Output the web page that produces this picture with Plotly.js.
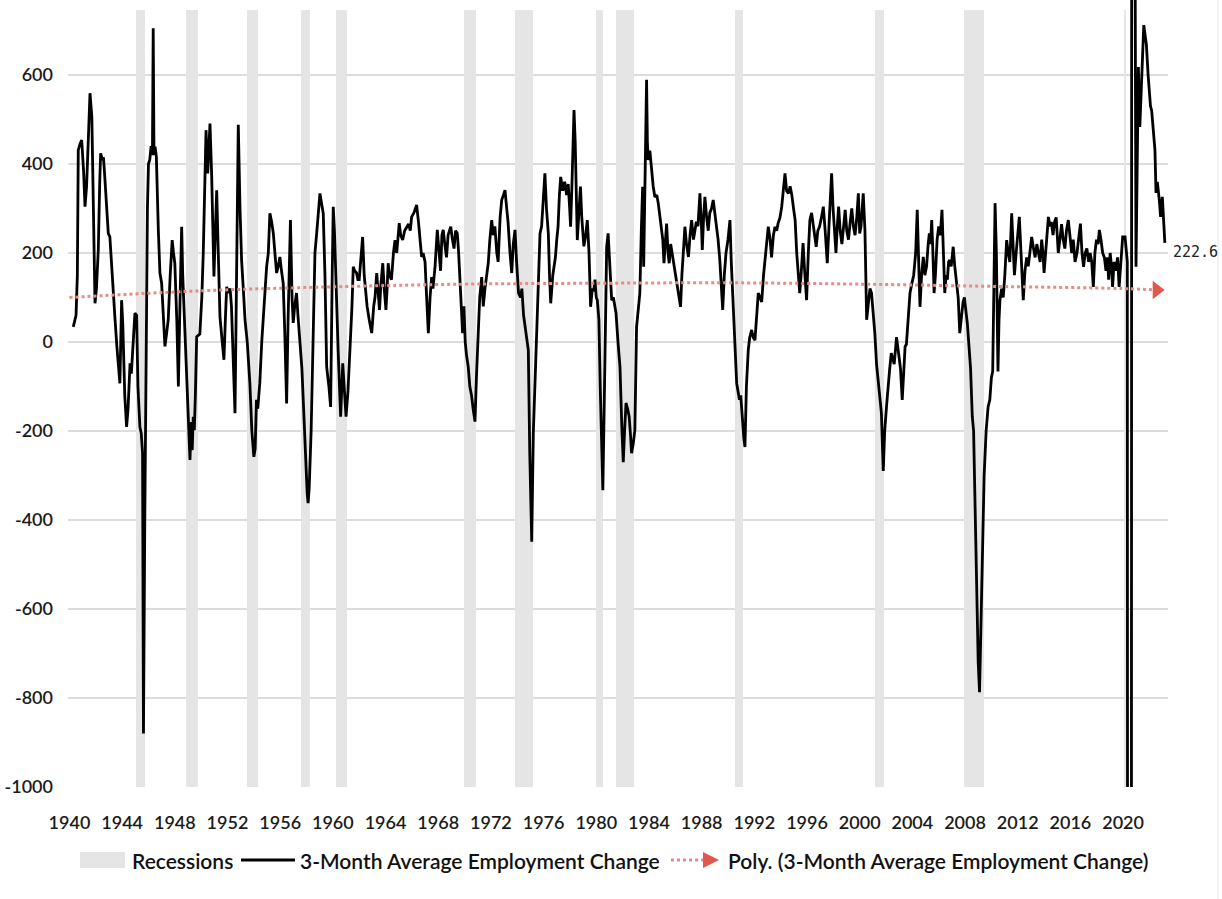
<!DOCTYPE html>
<html>
<head>
<meta charset="utf-8">
<script src="https://cdn.plot.ly/plotly-3.0.1.min.js"></script>
<style>
  html, body { margin: 0; padding: 0; background: #ffffff; }
  #chart { width: 1222px; height: 899px; }
</style>
</head>
<body>
<div id="chart"></div>
<script>
// ---------------- DATA ----------------
// 3-month average employment change (thousands), x in decimal years
const empYears = [
1940.29,1940.5,1940.6,1940.67,1940.8,1940.93,1941.08,1941.18,1941.3,1941.45,1941.56,1941.7,1941.82,1941.94,
1942.05,1942.19,1942.3,1942.37,1942.5,1942.58,1942.65,1942.8,1942.95,1943.07,1943.2,1943.33,1943.45,1943.6,
1943.75,1943.83,1943.96,1944.05,1944.2,1944.34,1944.45,1944.6,1944.7,1944.85,1944.97,1945.1,1945.2,1945.35,
1945.45,1945.55,1945.62,1945.72,1945.82,1945.92,1946.0,1946.1,1946.2,1946.3,1946.36,1946.42,1946.5,1946.6,
1946.75,1946.87,1947.0,1947.12,1947.25,1947.38,1947.5,1947.65,1947.8,1947.9,1948.0,1948.15,1948.27,1948.4,
1948.52,1948.6,1948.77,1948.95,1949.1,1949.15,1949.25,1949.32,1949.4,1949.48,1949.56,1949.66,1949.9,1950.05,
1950.16,1950.3,1950.37,1950.5,1950.6,1950.67,1950.8,1950.97,1951.08,1951.18,1951.3,1951.43,1951.6,1951.73,
1951.85,1951.94,1952.05,1952.2,1952.3,1952.45,1952.57,1952.65,1952.75,1952.82,1952.95,1953.07,1953.2,1953.33,
1953.5,1953.7,1953.85,1954.0,1954.1,1954.2,1954.3,1954.45,1954.6,1954.8,1954.97,1955.1,1955.22,1955.35,
1955.48,1955.6,1955.73,1955.85,1955.98,1956.1,1956.23,1956.35,1956.49,1956.6,1956.7,1956.78,1956.9,1956.99,
1957.1,1957.24,1957.35,1957.5,1957.65,1957.78,1957.9,1958.05,1958.12,1958.2,1958.35,1958.5,1958.64,1958.77,
1958.9,1959.02,1959.15,1959.27,1959.4,1959.53,1959.7,1959.83,1959.95,1960.03,1960.12,1960.24,1960.4,1960.59,
1960.68,1960.75,1960.9,1961.0,1961.15,1961.3,1961.45,1961.55,1961.65,1961.8,1961.9,1962.0,1962.1,1962.26,
1962.38,1962.51,1962.6,1962.76,1962.95,1963.1,1963.2,1963.33,1963.45,1963.54,1963.65,1963.79,1963.9,1964.03,
1964.12,1964.2,1964.3,1964.45,1964.6,1964.72,1964.85,1965.04,1965.15,1965.3,1965.45,1965.6,1965.75,1965.88,
1965.98,1966.15,1966.36,1966.5,1966.62,1966.74,1966.85,1967.0,1967.12,1967.25,1967.38,1967.5,1967.6,1967.76,
1967.93,1968.05,1968.18,1968.28,1968.38,1968.5,1968.63,1968.75,1968.95,1969.08,1969.2,1969.32,1969.45,1969.55,
1969.65,1969.75,1969.85,1969.95,1970.05,1970.15,1970.28,1970.4,1970.53,1970.65,1970.79,1970.9,1971.04,1971.15,
1971.3,1971.42,1971.55,1971.65,1971.8,1971.92,1972.06,1972.18,1972.3,1972.45,1972.55,1972.7,1972.82,1972.95,
1973.07,1973.2,1973.3,1973.45,1973.58,1973.7,1973.83,1973.95,1974.1,1974.25,1974.35,1974.48,1974.6,1974.72,
1974.84,1974.95,1975.1,1975.22,1975.35,1975.47,1975.6,1975.73,1975.85,1975.95,1976.1,1976.22,1976.36,1976.45,
1976.54,1976.7,1976.9,1977.0,1977.1,1977.2,1977.3,1977.45,1977.6,1977.75,1977.87,1977.98,1978.05,1978.15,
1978.25,1978.31,1978.4,1978.56,1978.7,1978.8,1978.9,1979.06,1979.2,1979.32,1979.45,1979.57,1979.7,1979.8,
1979.9,1980.0,1980.08,1980.2,1980.3,1980.4,1980.5,1980.6,1980.68,1980.79,1980.9,1981.0,1981.17,1981.3,
1981.4,1981.5,1981.65,1981.8,1981.95,1982.05,1982.15,1982.26,1982.38,1982.5,1982.6,1982.68,1982.8,1982.93,
1983.06,1983.2,1983.31,1983.42,1983.52,1983.6,1983.72,1983.82,1983.88,1983.94,1984.07,1984.2,1984.32,1984.45,
1984.6,1984.71,1984.85,1984.96,1985.05,1985.14,1985.25,1985.34,1985.45,1985.54,1985.65,1985.8,1985.92,1986.05,
1986.2,1986.3,1986.4,1986.5,1986.6,1986.73,1986.85,1987.0,1987.12,1987.24,1987.38,1987.5,1987.6,1987.72,
1987.87,1988.0,1988.05,1988.15,1988.25,1988.38,1988.5,1988.62,1988.75,1988.88,1989.0,1989.13,1989.25,1989.38,
1989.5,1989.6,1989.72,1989.85,1990.0,1990.15,1990.25,1990.35,1990.45,1990.55,1990.66,1990.76,1990.87,1990.97,
1991.1,1991.2,1991.29,1991.4,1991.54,1991.65,1991.8,1991.92,1992.05,1992.18,1992.3,1992.43,1992.56,1992.7,
1992.8,1992.92,1993.06,1993.2,1993.31,1993.45,1993.57,1993.7,1993.8,1993.95,1994.08,1994.2,1994.33,1994.45,
1994.59,1994.72,1994.85,1994.98,1995.1,1995.22,1995.34,1995.45,1995.55,1995.7,1995.82,1995.97,1996.1,1996.22,
1996.35,1996.48,1996.6,1996.7,1996.82,1996.95,1997.1,1997.24,1997.38,1997.54,1997.7,1997.87,1997.98,1998.1,
1998.2,1998.3,1998.4,1998.52,1998.65,1998.78,1998.9,1999.02,1999.15,1999.28,1999.4,1999.52,1999.65,1999.78,
1999.9,2000.0,2000.1,2000.27,2000.4,2000.53,2000.65,2000.78,2000.9,2001.0,2001.15,2001.28,2001.41,2001.55,
2001.65,2001.79,2001.9,2002.05,2002.17,2002.28,2002.4,2002.52,2002.62,2002.8,2002.95,2003.1,2003.23,2003.35,
2003.45,2003.55,2003.7,2003.82,2003.95,2004.1,2004.25,2004.37,2004.48,2004.58,2004.7,2004.83,2004.95,2005.08,
2005.2,2005.29,2005.38,2005.47,2005.56,2005.65,2005.75,2005.88,2006.0,2006.12,2006.25,2006.35,2006.46,2006.56,
2006.66,2006.75,2006.84,2006.95,2007.1,2007.22,2007.35,2007.48,2007.6,2007.72,2007.85,2007.95,2008.05,2008.18,
2008.3,2008.42,2008.55,2008.65,2008.75,2008.88,2009.0,2009.1,2009.2,2009.32,2009.45,2009.6,2009.75,2009.88,
2010.0,2010.1,2010.2,2010.28,2010.38,2010.5,2010.58,2010.65,2010.78,2010.9,2011.02,2011.16,2011.28,2011.4,
2011.54,2011.65,2011.75,2011.88,2012.0,2012.12,2012.25,2012.35,2012.42,2012.55,2012.68,2012.8,2012.93,2013.06,
2013.2,2013.32,2013.45,2013.58,2013.7,2013.82,2013.92,2014.0,2014.12,2014.22,2014.33,2014.45,2014.55,2014.68,
2014.8,2014.92,2015.08,2015.2,2015.33,2015.45,2015.58,2015.7,2015.84,2015.96,2016.1,2016.22,2016.35,2016.5,
2016.62,2016.76,2016.88,2017.0,2017.12,2017.25,2017.38,2017.5,2017.62,2017.74,2017.86,2017.98,2018.1,2018.2,
2018.32,2018.45,2018.58,2018.7,2018.82,2018.9,2019.02,2019.12,2019.2,2019.32,2019.45,2019.58,2019.7,2019.82,
2019.9,2019.97,2020.15,2020.32,2020.4,2020.6,2020.68,2020.8,2020.88,2020.98,2021.16,2021.27,2021.4,2021.57,
2021.67,2021.77,2021.9,2022.0,2022.08,2022.17,2022.3,2022.42,2022.5,2022.6,2022.75,2022.85,2022.98,2023.17
];
const empChange = [
34,60,150,431,445,454,380,304,349,470,559,506,300,87,
120,207,360,424,409,415,386,300,244,236,170,94,56,-10,
-80,-93,94,40,-120,-191,-150,-48,-71,20,65,60,-100,-191,
-205,-250,-880,-400,0,300,400,410,440,420,705,420,439,416,
250,155,132,60,-10,20,50,150,229,200,177,50,-100,100,
259,150,20,-100,-230,-265,-180,-243,-168,-198,-120,12,18,100,
200,380,476,379,440,491,373,147,250,341,200,56,0,-40,
60,124,110,120,80,-60,-160,50,300,488,300,184,120,50,
0,-93,-200,-258,-240,-130,-150,-93,0,100,169,200,289,270,
244,200,155,170,191,160,132,20,-138,50,150,274,100,43,
80,110,60,-10,-60,-150,-250,-340,-362,-330,-200,20,200,244,
300,334,310,289,150,-56,-100,-146,150,304,250,110,-18,-168,
-100,-48,-120,-168,-110,-25,80,169,160,155,140,140,180,236,
150,94,80,50,20,80,100,155,110,72,130,177,120,72,
120,177,150,140,200,229,200,267,240,229,250,259,265,250,
281,290,308,270,230,191,200,180,100,20,100,146,120,170,
252,200,160,240,252,220,190,240,259,230,210,250,244,200,
132,60,20,80,0,-30,-56,-100,-120,-150,-179,-80,20,100,
146,80,120,140,177,230,274,240,260,200,180,280,319,330,
341,300,270,200,155,220,252,180,110,100,120,60,34,0,
-18,-250,-449,-205,-80,20,150,244,260,300,379,300,244,150,
87,150,191,230,260,330,371,340,360,330,355,300,259,350,
470,521,450,229,300,349,280,215,240,274,200,79,120,114,
140,100,94,50,-100,-250,-333,-150,50,214,244,180,94,100,
80,65,0,-56,-200,-270,-200,-137,-150,-168,-210,-250,-230,-198,
34,80,110,250,349,169,400,589,450,409,430,380,350,326,
330,311,280,250,230,177,220,266,200,177,220,190,170,139,
120,100,79,150,190,259,220,191,240,274,230,250,270,260,
334,250,207,280,326,280,250,290,300,319,290,260,230,184,
120,72,150,200,230,274,180,117,30,-40,-93,-110,-130,-120,
-180,-215,-236,-100,-18,10,27,10,4,60,110,100,90,150,
184,220,259,230,190,240,259,250,266,280,304,340,379,340,
334,350,330,300,274,200,139,110,150,222,160,94,200,274,
290,260,230,214,250,259,280,304,250,177,280,379,300,240,
200,260,304,250,220,260,297,250,230,270,300,260,240,280,
334,244,260,334,250,50,80,120,110,80,20,-50,-93,-130,
-160,-290,-200,-140,-85,-60,-25,-40,-50,11,-20,-60,-130,-60,
-10,-5,60,110,130,150,200,297,180,79,150,191,150,170,
220,244,220,274,200,110,150,230,260,240,297,220,110,150,
140,180,184,170,214,170,130,100,20,60,90,100,79,40,
-10,-60,-168,-200,-350,-550,-720,-787,-650,-450,-300,-200,-146,-130,
-80,-66,100,312,200,-66,50,94,120,100,150,229,200,180,
289,200,150,200,250,281,200,150,94,160,190,170,200,236,
210,190,220,200,180,230,200,155,200,250,281,260,270,240,
270,280,200,230,265,230,210,250,274,240,200,230,180,200,
230,266,200,169,200,210,180,200,180,124,200,230,220,252,
230,200,190,160,190,140,200,170,124,180,160,190,124,170,
200,236,236,180,-6000,-5000,4000,3000,1200,169,618,483,600,712,
690,668,600,551,530,520,470,431,335,360,319,281,326,222.6
];

// NBER recessions (decimal years)
const recStart = [1945.08,1948.83,1953.50,1957.58,1960.25,1969.92,1973.83,1980.00,1981.50,1990.50,2001.17,2007.92,2020.08];
const recEnd   = [1945.75,1949.75,1954.33,1958.25,1961.08,1970.83,1975.17,1980.50,1982.83,1991.17,2001.83,2009.42,2020.25];

// Polynomial trend line
const trendYears  = [1940, 1950, 1960, 1970, 1980, 1990, 2000, 2010, 2020, 2022.55];
const trendValues = [100,  115,  124,  130,  132,  133,  130,  125,  120,  117];

// Axis ticks
const xTickYears = [1940,1944,1948,1952,1956,1960,1964,1968,1972,1976,1980,1984,1988,1992,1996,2000,2004,2008,2012,2016,2020];
const yTickVals  = [-1000,-800,-600,-400,-200,0,200,400,600];

// Legend labels
const legendLabels = ['Recessions', '3-Month Average Employment Change', 'Poly. (3-Month Average Employment Change)'];

// ---------------- CHART ----------------
const FONT = 'Lato, "Open Sans", sans-serif';
const Y_MIN = -1000, Y_MAX = 768.5, REC_TOP = 745;
const REC_COLOR = '#e5e5e5', LINE_COLOR = '#000000', TREND_COLOR = '#e58c84', ARROW_COLOR = '#e0574e';

const recessions = {
  type: 'bar',
  name: legendLabels[0],
  x: recStart.map((s, i) => (s + recEnd[i]) / 2),
  width: recStart.map((s, i) => recEnd[i] - s),
  base: recStart.map(() => Y_MIN),
  y: recStart.map(() => REC_TOP - Y_MIN),
  marker: { color: REC_COLOR, line: { width: 0 } },
  showlegend: false,
  hoverinfo: 'skip'
};

const employment = {
  type: 'scatter',
  mode: 'lines',
  name: legendLabels[1],
  x: empYears,
  y: empChange,
  line: { color: LINE_COLOR, width: 2.8 },
  showlegend: false,
  hoverinfo: 'skip'
};

const trend = {
  type: 'scatter',
  mode: 'lines',
  name: legendLabels[2],
  x: trendYears,
  y: trendValues,
  line: { color: TREND_COLOR, width: 3, dash: 'dot', shape: 'spline' },
  showlegend: false,
  hoverinfo: 'skip'
};

const trendArrow = {
  type: 'scatter',
  mode: 'markers',
  showlegend: false,
  x: [trendYears[trendYears.length - 1]],
  y: [trendValues[trendValues.length - 1]],
  marker: { symbol: 'triangle-right', size: 16, color: ARROW_COLOR },
  cliponaxis: false,
  hoverinfo: 'skip'
};

const lastX = empYears[empYears.length - 1];
const lastY = empChange[empChange.length - 1];

// legend drawn below the plot, positions in pixels converted to paper units
const PL = 68, PW = 1100, PB = 787, PH = 787;
const px = v => (v - PL) / PW;
const py = v => (PB - v) / PH;
const LEG_Y = 860;
const legendFont = { family: FONT, size: 21, color: '#111111', weight: 600 };

const layout = {
  width: 1222,
  height: 899,
  margin: { l: 68, r: 54, t: 0, b: 112 },
  paper_bgcolor: '#ffffff',
  plot_bgcolor: '#ffffff',
  showlegend: false,
  bargap: 0,
  xaxis: {
    range: [1939.89, 2023.41],
    tickvals: xTickYears,
    ticktext: xTickYears.map(String),
    showgrid: false,
    zeroline: false,
    showline: false,
    ticks: '',
    ticklabelstandoff: 23,
    tickfont: { family: FONT, size: 18, color: '#1a1a1a', weight: 600 },
    fixedrange: true
  },
  yaxis: {
    range: [Y_MIN, Y_MAX],
    tickvals: yTickVals,
    ticktext: yTickVals.map(v => String(v)),
    showgrid: true,
    gridcolor: '#dcdcdc',
    gridwidth: 1.5,
    zeroline: false,
    showline: false,
    ticks: '',
    ticklabelstandoff: 14,
    tickfont: { family: FONT, size: 18, color: '#1a1a1a', weight: 600 },
    fixedrange: true
  },
  annotations: [
    {
      xref: 'x', yref: 'y',
      x: lastX, y: lastY,
      text: lastY.toFixed(1),
      showarrow: false,
      xanchor: 'left', yanchor: 'middle',
      xshift: 6, yshift: -9,
      font: { family: '"DejaVu Sans Mono", monospace', size: 15, color: '#222222' }
    },
    { xref: 'paper', yref: 'paper', x: px(130), y: py(LEG_Y), xanchor: 'left', yanchor: 'middle',
      showarrow: false, text: legendLabels[0], font: legendFont },
    { xref: 'paper', yref: 'paper', x: px(298), y: py(LEG_Y), xanchor: 'left', yanchor: 'middle',
      showarrow: false, text: legendLabels[1], font: legendFont },
    { xref: 'paper', yref: 'paper', x: px(726), y: py(LEG_Y), xanchor: 'left', yanchor: 'middle',
      showarrow: false, text: legendLabels[2], font: legendFont }
  ],
  shapes: [
    // legend: recession swatch
    { type: 'rect', xref: 'paper', yref: 'paper', x0: px(80), x1: px(125), y0: py(868), y1: py(852),
      fillcolor: REC_COLOR, line: { width: 0 } },
    // legend: black line
    { type: 'line', xref: 'paper', yref: 'paper', x0: px(241), x1: px(295), y0: py(LEG_Y), y1: py(LEG_Y),
      line: { color: LINE_COLOR, width: 3 } },
    // legend: dotted trend + arrow
    { type: 'line', xref: 'paper', yref: 'paper', x0: px(671), x1: px(704), y0: py(LEG_Y), y1: py(LEG_Y),
      line: { color: TREND_COLOR, width: 3, dash: 'dot' } },
    { type: 'path', xref: 'paper', yref: 'paper',
      path: `M ${px(703)} ${py(LEG_Y - 8)} L ${px(719)} ${py(LEG_Y)} L ${px(703)} ${py(LEG_Y + 8)} Z`,
      fillcolor: ARROW_COLOR, line: { width: 0 } },
    // faint chart border on the right
    { type: 'line', xref: 'paper', yref: 'paper', x0: px(1218), x1: px(1218), y0: py(899), y1: 1,
      line: { color: '#e6e6e6', width: 1 } }
  ]
};

Plotly.newPlot('chart', [recessions, employment, trend, trendArrow], layout, { displayModeBar: false, staticPlot: true });
</script>
</body>
</html>
